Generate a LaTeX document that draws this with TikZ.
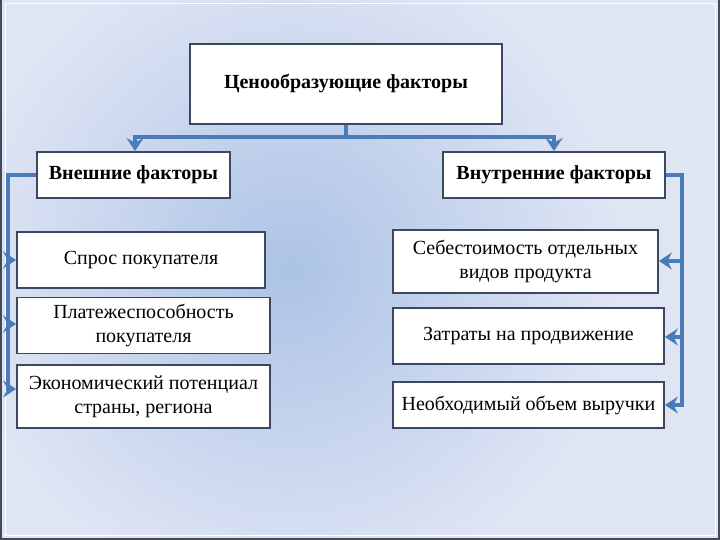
\documentclass[tikz,border=0pt]{standalone}
\usepackage{fontspec}
\setmainfont{Liberation Serif}
\usetikzlibrary{arrows.meta}
\definecolor{bgout}{RGB}{224,229,244}
\definecolor{bgin}{RGB}{172,195,230}
\definecolor{boxline}{RGB}{58,72,98}
\definecolor{conn}{RGB}{74,124,186}
\definecolor{frame}{RGB}{70,72,82}
\tikzset{
  box/.style={draw=boxline, line width=1.8pt, fill=white, align=center, inner sep=1pt,
    font=\fontsize{20}{24}\selectfont},
  title/.style={box, font=\fontsize{20}{24}\selectfont\bfseries},
  link/.style={draw=conn, line width=3.6pt},
  arr/.style={link, -{Stealth[length=13pt,width=17pt,inset=4.5pt]}}
}
\begin{document}
\begin{tikzpicture}[x=1pt,y=-1pt]
\useasboundingbox (0,0) rectangle (720,540);
\fill[bgout] (0,0) rectangle (720,540);
\begin{scope}
\clip (0,0) rectangle (720,540);
\shade[inner color=bgin, outer color=bgout] (290,270) circle (330);
\end{scope}
\draw[white, line width=1pt] (5,4) rectangle (715,535);
\draw[frame, line width=2pt] (1,0) -- (1,539) -- (719,539) -- (719,0);
% nodes
\node[title, minimum width=312pt, minimum height=80pt] (top) at (346,84) {Ценообразующие факторы};
\node[title, minimum width=193pt, minimum height=46pt] (ext) at (133.5,175) {Внешние факторы};
\node[title, minimum width=222pt, minimum height=46pt] (int) at (554,175) {Внутренние факторы};
\node[box, minimum width=248pt, minimum height=56pt] (l1) at (141,260) {Спрос покупателя};
\node[box, minimum width=253pt, minimum height=56pt] (l2) at (143.5,325.5) {Платежеспособность\\покупателя};
\node[box, minimum width=253pt, minimum height=63pt] (l3) at (143.5,396.5) {Экономический потенциал\\страны, региона};
\node[box, minimum width=265pt, minimum height=63pt] (r1) at (525.5,261.5) {Себестоимость отдельных\\видов продукта};
\node[box, minimum width=271pt, minimum height=56pt] (r2) at (528.5,336) {Затраты на продвижение};
\node[box, minimum width=271pt, minimum height=46pt] (r3) at (528.5,405) {Необходимый объем выручки};
% connectors
\coordinate (hub) at (346,137);
\draw[link] (top.south) -- (hub);
\draw[arr] (hub) -- (135,137) -- (ext.north -| 135,0);
\draw[arr] (hub) -- (554,137) -- (int.north -| 554,0);
\coordinate (lc) at (8,175);
\draw[link] (ext.west) -- (lc) -- (8,389);
\draw[arr] (6.2,260) -- (l1.west);
\draw[arr] (6.2,324) -- (l2.west |- 0,324);
\draw[arr] (6.2,389) -- (l3.west |- 0,389);
\coordinate (rc) at (682,175);
\draw[link] (int.east) -- (rc) -- (682,405);
\draw[arr] (683.8,261) -- (r1.east |- 0,261);
\draw[arr] (683.8,337) -- (r2.east |- 0,337);
\draw[arr] (683.8,405) -- (r3.east);
\end{tikzpicture}
\end{document}
